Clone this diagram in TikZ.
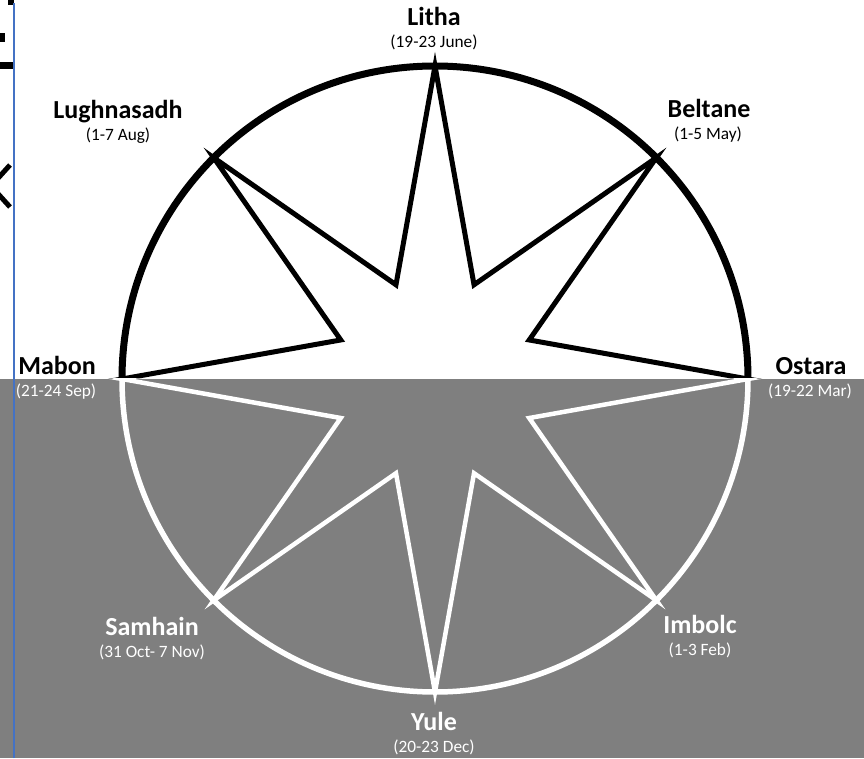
\documentclass[tikz,border=0pt]{standalone}
\usepackage{fontspec}
\setmainfont{Carlito}
\usetikzlibrary{positioning}
\definecolor{wheelgray}{RGB}{127,127,127}
\definecolor{edgeblue}{RGB}{68,114,196}

\begin{document}
\begin{tikzpicture}[x=1pt, y=1pt,
    fest/.style={font=\fontsize{26}{30}\selectfont\bfseries, anchor=base, inner sep=0pt},
    span/.style={font=\fontsize{17.3}{20}\selectfont, anchor=base, inner sep=0pt},
    upper/.style={line width=5pt, black},
    lower/.style={line width=4.5pt, white}
  ]
    \useasboundingbox (0,0) rectangle (864,758);
    \fill[wheelgray] (0,0) rectangle (864,379);

    % scraps at the left edge
    \fill (8,753) rectangle (13.5,758);
    \fill (0,716) rectangle (5,725);
    \fill (0,689) rectangle (14,696);
    \draw[line width=5pt] (10,593) -- (-9,572) -- (10,551);
    \draw[edgeblue, line width=1.5pt] (14,0) -- (14,755);

    \coordinate (c) at (435,379);
    \foreach \k in {0,...,7} {
      \coordinate (o\k) at ([shift={(\k*45:313)}]c);
      \coordinate (i\k) at ([shift={(\k*45+22.5:102)}]c);
    }

    \begin{scope}
      \clip (0,379) rectangle (864,758);
      \draw[upper, line width=7pt] (c) circle (313pt);
      \draw[upper] (o0) -- (i0) -- (o1) -- (i1) -- (o2) -- (i2) -- (o3) -- (i3) -- (o4)
        -- (i4) -- (o5) -- (i5) -- (o6) -- (i6) -- (o7) -- (i7) -- cycle;
    \end{scope}
    \begin{scope}
      \clip (0,0) rectangle (864,379);
      \draw[lower, line width=5.5pt] (c) circle (313pt);
      \draw[lower] (o0) -- (i0) -- (o1) -- (i1) -- (o2) -- (i2) -- (o3) -- (i3) -- (o4)
        -- (i4) -- (o5) -- (i5) -- (o6) -- (i6) -- (o7) -- (i7) -- cycle;
    \end{scope}

    \node[fest] (litha) at (434,732) {Litha};
    \node[span] (lithad) at (434,710) {(19-23 June)};
    \node[fest] (lugh) at (118,639) {Lughnasadh};
    \node[span] (lughd) at (118,617) {(1-7 Aug)};
    \node[fest] (beltane) at (709,640) {Beltane};
    \node[span] (beltaned) at (708,618) {(1-5 May)};
    \node[fest] (mabon) at (57,383) {Mabon};
    \node[span, text=white] (mabond) at (56,361) {(21-24 Sep)};
    \node[fest] (ostara) at (811,383) {Ostara};
    \node[span, text=white] (ostarad) at (810,361) {(19-22 Mar)};
    \node[fest, text=white] (samhain) at (152,123) {Samhain};
    \node[span, text=white] (samhaind) at (152,101) {(31 Oct- 7 Nov)};
    \node[fest, text=white] (imbolc) at (700,125) {Imbolc};
    \node[span, text=white] (imbolcd) at (700,103) {(1-3 Feb)};
    \node[fest, text=white] (yule) at (434,28) {Yule};
    \node[span, text=white] (yuled) at (434,6) {(20-23 Dec)};
  \end{tikzpicture}
\end{document}
